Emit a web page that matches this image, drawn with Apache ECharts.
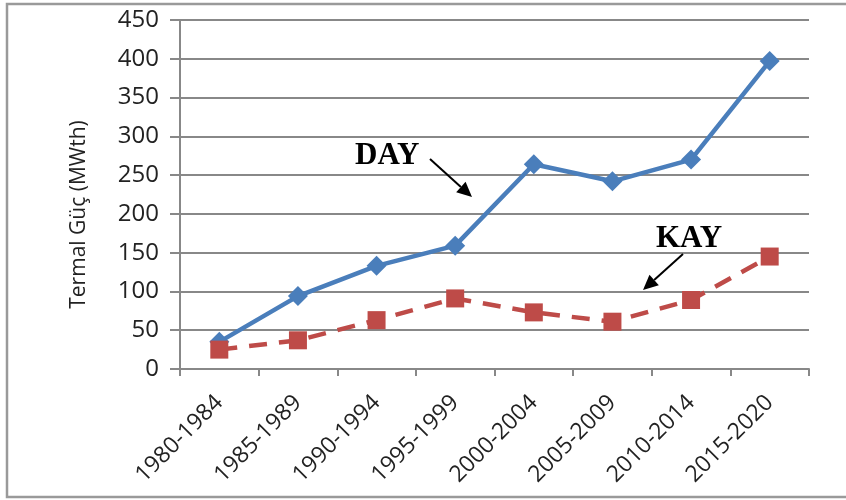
<!DOCTYPE html>
<html>
<head>
<meta charset="utf-8">
<script src="https://cdn.jsdelivr.net/npm/echarts@6/dist/echarts.min.js"></script>
<style>
  html, body { margin: 0; padding: 0; background: #ffffff; }
  #chart { width: 846px; height: 500px; }
</style>
</head>
<body>
<div id="chart"></div>
<script>
// Periods on the x axis
const periods = ['1980-1984', '1985-1989', '1990-1994', '1995-1999',
                 '2000-2004', '2005-2009', '2010-2014', '2015-2020'];
// Installed thermal power (MWth)
const dayValues = [35, 94, 133, 159, 264, 242, 270, 397];
const kayValues = [25, 37, 63, 91, 73, 61, 89, 145];
// Value axis range
const yMin = 0, yMax = 450, yStep = 50;

const gridColor = '#888888';
const labelFont = '"Open Sans", "Liberation Sans", sans-serif';

// Draws a straight arrow with a filled head ending at (x2, y2)
function arrow(x1, y1, x2, y2) {
  const ang = Math.atan2(y2 - y1, x2 - x1);
  const len = 15, half = 7;
  const bx = x2 - len * Math.cos(ang), by = y2 - len * Math.sin(ang);
  const px = -Math.sin(ang) * half, py = Math.cos(ang) * half;
  return [
    { type: 'line', shape: { x1: x1, y1: y1, x2: bx, y2: by },
      style: { stroke: '#000', lineWidth: 2 }, z: 100 },
    { type: 'polygon', shape: { points: [[x2, y2], [bx + px, by + py], [bx - px, by - py]] },
      style: { fill: '#000' }, z: 100 }
  ];
}

const chart = echarts.init(document.getElementById('chart'), null, { renderer: 'canvas' });
chart.setOption({
  animation: false,
  backgroundColor: '#ffffff',
  grid: { left: 180, right: 37, top: 20, bottom: 131, containLabel: false },
  xAxis: {
    type: 'category',
    data: periods,
    boundaryGap: true,
    axisLine: { lineStyle: { color: gridColor, width: 2 } },
    axisTick: { show: true, length: 7, lineStyle: { color: gridColor, width: 2 } },
    axisLabel: { rotate: 45, margin: 30, color: '#222222', fontSize: 23, fontFamily: labelFont, interval: 0 },
    splitLine: { show: false }
  },
  yAxis: {
    type: 'value',
    min: yMin, max: yMax, interval: yStep,
    name: 'Termal Güç (MWth)',
    nameLocation: 'middle',
    nameGap: 90,
    nameTextStyle: { color: '#222222', fontSize: 21, fontFamily: labelFont, padding: [0, 40, 0, 0] },
    axisLine: { show: true, lineStyle: { color: gridColor, width: 2 } },
    axisTick: { show: true, length: 10, lineStyle: { color: gridColor, width: 2 } },
    axisLabel: { margin: 21, color: '#222222', fontSize: 24, fontFamily: labelFont },
    splitLine: { show: true, lineStyle: { color: gridColor, width: 2 } }
  },
  series: [
    {
      name: 'DAY',
      type: 'line',
      data: dayValues,
      symbol: 'diamond',
      symbolSize: 20,
      lineStyle: { color: '#4a7ebb', width: 4.5 },
      itemStyle: { color: '#4a7ebb' },
      z: 3
    },
    {
      name: 'KAY',
      type: 'line',
      data: kayValues,
      symbol: 'rect',
      symbolSize: 18,
      lineStyle: { color: '#be4b48', width: 4.5, type: [18, 12] },
      itemStyle: { color: '#be4b48' },
      z: 4
    }
  ],
  graphic: [
    // frame around the figure (open on the right)
    { type: 'rect', shape: { x: 7, y: 4, width: 860, height: 493 },
      style: { fill: 'none', stroke: '#9a9a9a', lineWidth: 2.5 }, z: 0 },
    { type: 'text', x: 355, y: 156,
      style: { text: 'DAY', fill: '#000', font: 'bold 31px "Liberation Serif", "Times New Roman", serif',
               textVerticalAlign: 'middle' }, z: 100 },
    ...arrow(430, 159, 472, 197),
    { type: 'text', x: 656, y: 239,
      style: { text: 'KAY', fill: '#000', font: 'bold 31px "Liberation Serif", "Times New Roman", serif',
               textVerticalAlign: 'middle' }, z: 100 },
    ...arrow(683, 254, 643, 290)
  ]
});
</script>
</body>
</html>
